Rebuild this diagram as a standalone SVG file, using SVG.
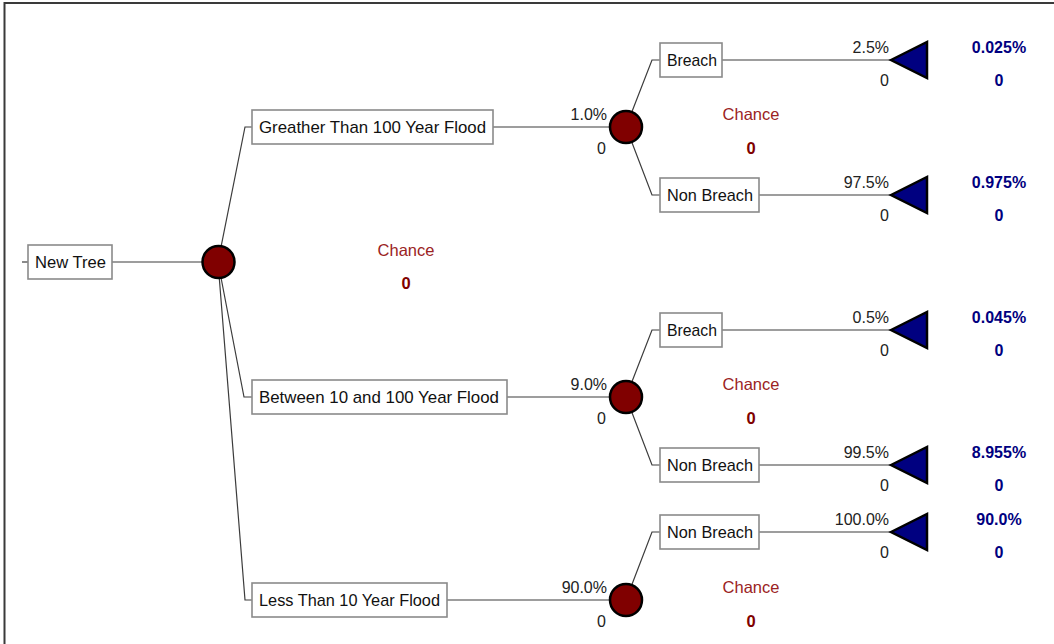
<svg xmlns="http://www.w3.org/2000/svg" width="1054" height="644" viewBox="0 0 1054 644">
<style>
.box{fill:#fff;stroke:#8a8a8a;stroke-width:1.6}
.lbl{font-family:"Liberation Sans",Arial,sans-serif;font-size:17px;fill:#111}
.ln{stroke:#3c3c3c;stroke-width:1.2;fill:none}
.chance{fill:#800000;stroke:#000;stroke-width:2.5}
.term{fill:#000080;stroke:#000;stroke-width:2.5;stroke-linejoin:miter}
.prob{font-family:"Liberation Sans",Arial,sans-serif;font-size:16px;fill:#222;text-anchor:end}
.cname{font-family:"Liberation Sans",Arial,sans-serif;font-size:16.5px;fill:#9b2323;text-anchor:middle}
.cval{font-family:"Liberation Sans",Arial,sans-serif;font-size:16.5px;font-weight:bold;fill:#800000;text-anchor:middle}
.tval{font-family:"Liberation Sans",Arial,sans-serif;font-size:16px;font-weight:bold;fill:#000080;text-anchor:middle}
</style>
<rect width="1054" height="644" fill="#fff"/>
<path d="M4.5,644 V3 H1054" fill="none" stroke="#3a3a3a" stroke-width="2"/>
<g id="connectors">
<path class="ln" d="M22,262 H28"/>
<path class="ln" d="M112,262 H218"/>
<path class="ln" d="M218,262 L245,127 H252"/>
<path class="ln" d="M218,262 L244,397 H252"/>
<path class="ln" d="M218,262 L245,600 H252"/>
<path class="ln" d="M493,127 H626"/>
<path class="ln" d="M507,397 H626"/>
<path class="ln" d="M447,600 H626"/>
<path class="ln" d="M626,127 L652,60 H660"/>
<path class="ln" d="M626,127 L652,195 H660"/>
<path class="ln" d="M626,397 L652,330 H660"/>
<path class="ln" d="M626,397 L652,465 H660"/>
<path class="ln" d="M626,600 L652,532 H660"/>
<path class="ln" d="M722,60 H891"/>
<path class="ln" d="M759,195 H891"/>
<path class="ln" d="M722,330 H891"/>
<path class="ln" d="M759,465 H891"/>
<path class="ln" d="M759,532 H891"/>
</g>
<g id="root">
<rect class="box" x="28" y="245" width="84" height="34"/>
<text class="lbl" x="35" y="268" textLength="71" lengthAdjust="spacingAndGlyphs">New Tree</text>
</g>
<g id="chance-root">
<circle class="chance" cx="218.5" cy="262" r="16"/>
<text class="cname" x="406" y="256">Chance</text>
<text class="cval" x="406" y="289">0</text>
</g>
<g id="branch-gt100">
<rect class="box" x="252" y="110" width="241" height="34"/>
<text class="lbl" x="259" y="133" textLength="227" lengthAdjust="spacingAndGlyphs">Greather Than 100 Year Flood</text>
<text class="prob" x="607" y="120">1.0%</text>
<text class="prob" x="606" y="154">0</text>
</g>
<g id="branch-10-100">
<rect class="box" x="252" y="380" width="255" height="34"/>
<text class="lbl" x="259" y="403" textLength="240" lengthAdjust="spacingAndGlyphs">Between 10 and 100 Year Flood</text>
<text class="prob" x="607" y="390">9.0%</text>
<text class="prob" x="606" y="424">0</text>
</g>
<g id="branch-lt10">
<rect class="box" x="252" y="583" width="195" height="34"/>
<text class="lbl" x="259" y="606" textLength="181" lengthAdjust="spacingAndGlyphs">Less Than 10 Year Flood</text>
<text class="prob" x="607" y="593">90.0%</text>
<text class="prob" x="606" y="627">0</text>
</g>
<g id="chance-1">
<circle class="chance" cx="626" cy="127" r="16"/>
<text class="cname" x="751" y="120">Chance</text>
<text class="cval" x="751" y="154">0</text>
</g>
<g id="chance-2">
<circle class="chance" cx="626" cy="397" r="16"/>
<text class="cname" x="751" y="390">Chance</text>
<text class="cval" x="751" y="424">0</text>
</g>
<g id="chance-3">
<circle class="chance" cx="626" cy="600" r="16"/>
<text class="cname" x="751" y="593">Chance</text>
<text class="cval" x="751" y="627">0</text>
</g>
<g id="breach-1">
<rect class="box" x="660" y="43" width="62" height="34"/>
<text class="lbl" x="667" y="66" textLength="50" lengthAdjust="spacingAndGlyphs">Breach</text>
<text class="prob" x="889" y="53">2.5%</text>
<text class="prob" x="889" y="86">0</text>
<polygon class="term" points="891,60 927,42 927,78"/>
<text class="tval" x="999" y="53">0.025%</text>
<text class="tval" x="999" y="86">0</text>
</g>
<g id="nonbreach-1">
<rect class="box" x="660" y="178" width="99" height="34"/>
<text class="lbl" x="667" y="201" textLength="86" lengthAdjust="spacingAndGlyphs">Non Breach</text>
<text class="prob" x="889" y="188">97.5%</text>
<text class="prob" x="889" y="221">0</text>
<polygon class="term" points="891,195 927,177 927,213"/>
<text class="tval" x="999" y="188">0.975%</text>
<text class="tval" x="999" y="221">0</text>
</g>
<g id="breach-2">
<rect class="box" x="660" y="313" width="62" height="34"/>
<text class="lbl" x="667" y="336" textLength="50" lengthAdjust="spacingAndGlyphs">Breach</text>
<text class="prob" x="889" y="323">0.5%</text>
<text class="prob" x="889" y="356">0</text>
<polygon class="term" points="891,330 927,312 927,348"/>
<text class="tval" x="999" y="323">0.045%</text>
<text class="tval" x="999" y="356">0</text>
</g>
<g id="nonbreach-2">
<rect class="box" x="660" y="448" width="99" height="34"/>
<text class="lbl" x="667" y="471" textLength="86" lengthAdjust="spacingAndGlyphs">Non Breach</text>
<text class="prob" x="889" y="458">99.5%</text>
<text class="prob" x="889" y="491">0</text>
<polygon class="term" points="891,465 927,447 927,483"/>
<text class="tval" x="999" y="458">8.955%</text>
<text class="tval" x="999" y="491">0</text>
</g>
<g id="nonbreach-3">
<rect class="box" x="660" y="515" width="99" height="34"/>
<text class="lbl" x="667" y="538" textLength="86" lengthAdjust="spacingAndGlyphs">Non Breach</text>
<text class="prob" x="889" y="525">100.0%</text>
<text class="prob" x="889" y="558">0</text>
<polygon class="term" points="891,532 927,514 927,550"/>
<text class="tval" x="999" y="525">90.0%</text>
<text class="tval" x="999" y="558">0</text>
</g>
</svg>
